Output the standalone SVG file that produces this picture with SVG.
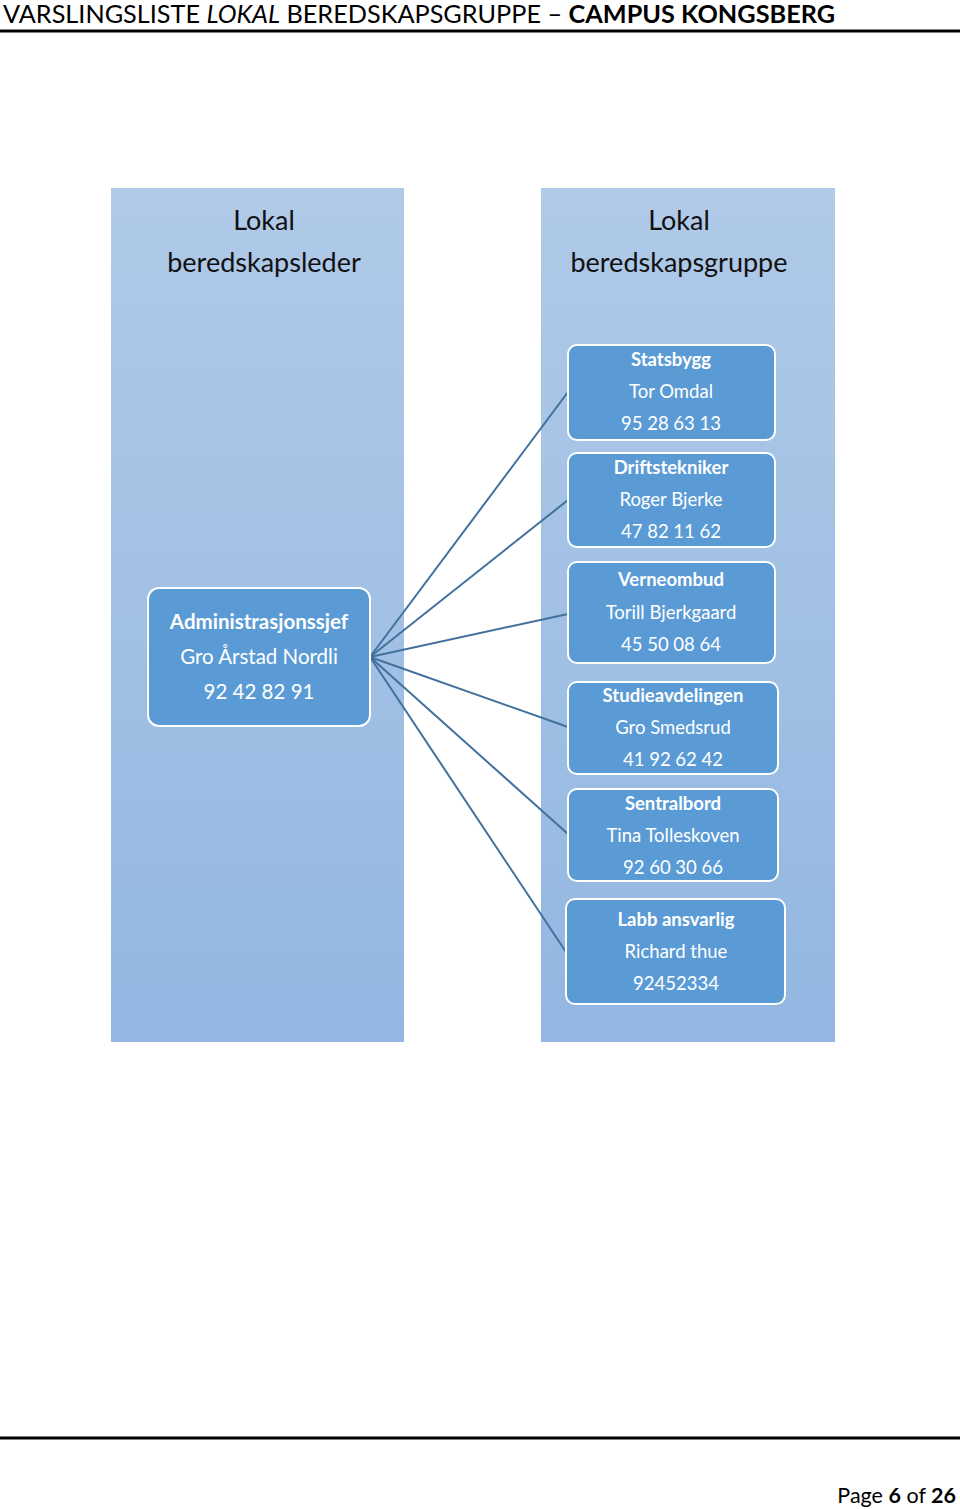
<svg xmlns="http://www.w3.org/2000/svg" width="960" height="1509" viewBox="0 0 960 1509">
<defs>
<linearGradient id="col" x1="0" y1="0" x2="0" y2="1">
<stop offset="0" stop-color="#b0cae8"/>
<stop offset="1" stop-color="#93b7e1"/>
</linearGradient>
<style>
text{font-family:"Lato","Noto Sans","Liberation Sans",sans-serif}
.hdr{font-size:24.5px;fill:#000}
.col{fill:url(#col)}
.title{font-size:27px;fill:#111;text-anchor:middle}
.node rect{fill:#5b9bd5;stroke:#ffffff;stroke-width:2}
.node text{fill:#ffffff;text-anchor:middle;font-size:18.5px}
.node text.b{font-weight:bold}
.big text{font-size:20.5px}
.conn line{stroke:#41719c;stroke-width:2}
</style>
</defs>
<rect width="960" height="1509" fill="#ffffff"/>
<text class="hdr" x="3" y="23" textLength="832" lengthAdjust="spacingAndGlyphs">VARSLINGSLISTE <tspan font-style="italic">LOKAL</tspan> BEREDSKAPSGRUPPE – <tspan font-weight="bold">CAMPUS KONGSBERG</tspan></text>
<rect x="0" y="29.5" width="960" height="3" fill="#000"/>

<g id="col-left">
<rect class="col" x="111" y="188" width="293" height="854"/>
<text class="title" x="264" y="230">Lokal</text>
<text class="title" x="264" y="272">beredskapsleder</text>
</g>
<g id="col-right">
<rect class="col" x="541" y="188" width="294" height="854"/>
<text class="title" x="679" y="230">Lokal</text>
<text class="title" x="679" y="272">beredskapsgruppe</text>
</g>

<g id="connectors" class="conn">
<line x1="370" y1="657" x2="568" y2="392"/>
<line x1="370" y1="657" x2="568" y2="500"/>
<line x1="370" y1="657" x2="568" y2="614"/>
<line x1="370" y1="657" x2="568" y2="727"/>
<line x1="370" y1="657" x2="568" y2="834"/>
<line x1="370" y1="657" x2="566" y2="952"/>
</g>

<g id="admin" class="node big">
<rect x="148" y="588" width="222" height="138" rx="11"/>
<text class="b" x="259" y="629">Administrasjonssjef</text>
<text x="259" y="664">Gro Årstad Nordli</text>
<text x="259" y="699">92 42 82 91</text>
</g>

<g id="statsbygg" class="node">
<rect x="568" y="345" width="207" height="95" rx="9"/>
<text class="b" x="671" y="366">Statsbygg</text>
<text x="671" y="398">Tor Omdal</text>
<text x="671" y="430">95 28 63 13</text>
</g>

<g id="driftstekniker" class="node">
<rect x="568" y="453" width="207" height="94" rx="9"/>
<text class="b" x="671" y="474">Driftstekniker</text>
<text x="671" y="506">Roger Bjerke</text>
<text x="671" y="538">47 82 11 62</text>
</g>

<g id="verneombud" class="node">
<rect x="568" y="562" width="207" height="101" rx="9"/>
<text class="b" x="671" y="586">Verneombud</text>
<text x="671" y="619">Torill Bjerkgaard</text>
<text x="671" y="651">45 50 08 64</text>
</g>

<g id="studieavdelingen" class="node">
<rect x="568" y="682" width="210" height="92" rx="9"/>
<text class="b" x="673" y="702">Studieavdelingen</text>
<text x="673" y="734">Gro Smedsrud</text>
<text x="673" y="766">41 92 62 42</text>
</g>

<g id="sentralbord" class="node">
<rect x="568" y="789" width="210" height="92" rx="9"/>
<text class="b" x="673" y="810">Sentralbord</text>
<text x="673" y="842">Tina Tolleskoven</text>
<text x="673" y="874">92 60 30 66</text>
</g>

<g id="labb" class="node">
<rect x="566" y="899" width="219" height="105" rx="9"/>
<text class="b" x="676" y="926">Labb ansvarlig</text>
<text x="676" y="958">Richard thue</text>
<text x="676" y="990">92452334</text>
</g>

<rect x="0" y="1436.5" width="960" height="3" fill="#000"/>
<text x="956" y="1503" font-size="21.5" text-anchor="end" fill="#000">Page <tspan font-weight="bold">6</tspan> of <tspan font-weight="bold">26</tspan></text>
</svg>
